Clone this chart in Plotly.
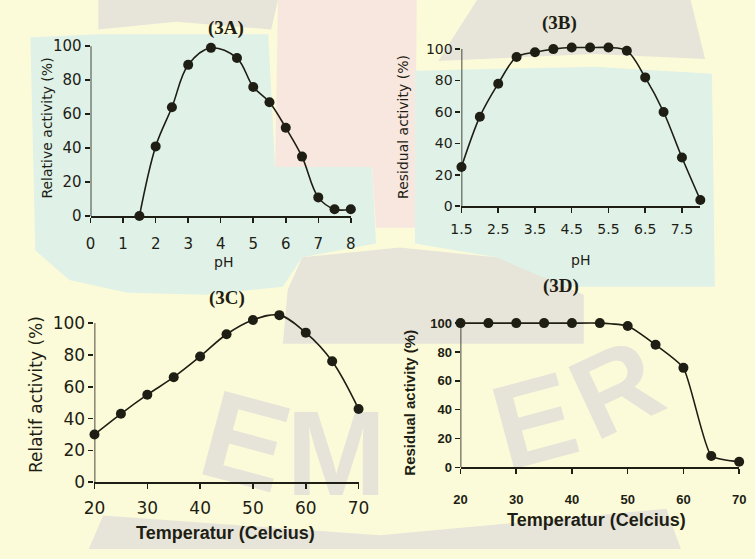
import plotly.graph_objects as go

W, H = 755, 559

# ---- data ----
ph_a = [1.5, 2, 2.5, 3, 3.7, 4.5, 5, 5.5, 6, 6.5, 7, 7.5, 8]
act_a = [0, 41, 64, 89, 99, 93, 76, 67, 52, 35, 11, 4, 4]

ph_b = [1.5, 2, 2.5, 3, 3.5, 4, 4.5, 5, 5.5, 6, 6.5, 7, 7.5, 8]
act_b = [25, 57, 78, 95, 98, 100, 101, 101, 101, 99, 82, 60, 31, 4]

temp_c = [20, 25, 30, 35, 40, 45, 50, 55, 60, 65, 70]
act_c = [30, 43, 55, 66, 79, 93, 102, 105, 94, 76, 46]

temp_d = [20, 25, 30, 35, 40, 45, 50, 55, 60, 65, 70]
act_d = [100, 100, 100, 100, 100, 100, 98, 85, 69, 8, 4]

ticks_a = [0, 1, 2, 3, 4, 5, 6, 7, 8]
ticks_b = [1.5, 2.5, 3.5, 4.5, 5.5, 6.5, 7.5]
ticks_t = [20, 30, 40, 50, 60, 70]
ticks_y = [0, 20, 40, 60, 80, 100]

titles = ["(3A)", "(3B)", "(3C)", "(3D)"]
ytitles = ["Relative activity (%)", "Residual activity (%)",
           "Relatif activity (%)", "Residual activity (%)"]
xtitles = ["pH", "pH", "Temperatur (Celcius)", "Temperatur (Celcius)"]


def px(x):
    return x / W


def py(y):
    return 1 - y / H


INK = "#1e1e14"
SANS = "DejaVu Sans, Liberation Sans, Arial"
NARROW = "Liberation Sans Narrow, Liberation Sans, Arial"
SERIF = "Liberation Serif, Times New Roman"
YMAX = 108

fig = go.Figure()
shapes = []

# ---- faint watermark-like background ----
TEAL = "#e0f1e8"
GRAY = "#e7e5d9"
PINK = "#f8e7df"
LETTER = "#e6e4d8"


def path(pts):
    return "M " + " L ".join("%.4f,%.4f" % (px(x), py(y)) for x, y in pts) + " Z"


def bg(pts, color):
    shapes.append(dict(type="path", path=path(pts), xref="paper", yref="paper",
                       fillcolor=color, line=dict(width=0), layer="below"))


bg([(20, 38), (90, 35), (265, 35), (272, 170), (372, 170), (376, 248), (300, 262),
    (280, 292), (200, 300), (120, 298), (60, 285), (25, 255)], TEAL)
bg([(275, 0), (418, 0), (416, 232), (376, 232), (372, 170), (272, 170)], PINK)
bg([(416, 72), (600, 68), (722, 75), (725, 292), (520, 292), (500, 262), (416, 248)], TEAL)
bg([(90, 0), (275, 0), (268, 30), (170, 22), (90, 30)], GRAY)
bg([(480, 0), (700, 0), (715, 60), (600, 55), (440, 62)], GRAY)
bg([(300, 262), (400, 252), (500, 262), (590, 300), (590, 350), (280, 350), (285, 295)], GRAY)
bg([(95, 525), (380, 545), (675, 518), (690, 559), (80, 559)], GRAY)


def letter(ch, cx, cy, size, angle):
    shapes.append(dict(type="rect", xref="paper", yref="paper",
                       x0=px(cx - 60), x1=px(cx + 60), y0=py(cy + 60), y1=py(cy - 60),
                       line=dict(width=0), fillcolor="rgba(0,0,0,0)", layer="below",
                       label=dict(text=ch, textangle=angle, textposition="middle center",
                                  font=dict(family="Liberation Sans, Arial", size=size,
                                            color=LETTER, weight="bold"))))


letter("E", 245, 437, 125, 15)
letter("M", 335, 450, 120, 0)
letter("E", 536, 417, 120, -15)
letter("R", 618, 385, 115, -25)

panels = [
    # x, y, xdomain(px), (y0px, y100px), xrange, xticks, font, standoff, smoothing
    (ph_a, act_a, (82, 350), (220, 47), [0, 8], ticks_a,
     dict(family=SANS, size=15), 8, 1.0),
    (ph_b, act_b, (464, 710), (210, 50), [1.5, 8], ticks_b,
     dict(family=SANS, size=14), 4, 0.9),
    (temp_c, act_c, (86, 358), (491, 329), [20, 70], ticks_t,
     dict(family=SANS, size=17), 5, 1.0),
    (temp_d, act_d, (463, 750), (476, 329), [20, 70], ticks_t,
     dict(family=NARROW, size=13, weight="bold"), 14, 0.5),
]

for i, (xs, ys, xd, yd, xr, xt, tf, so, sm) in enumerate(panels, start=1):
    suf = "" if i == 1 else str(i)
    unit = (yd[0] - yd[1]) / 100.0
    ytop = yd[0] - YMAX * unit
    fig.add_trace(go.Scatter(
        x=xs, y=ys, mode="lines+markers",
        line=dict(color=INK, width=1.6, shape="spline", smoothing=sm),
        marker=dict(color=INK, size=10),
        cliponaxis=False, showlegend=False, hoverinfo="skip",
        xaxis="x" + suf, yaxis="y" + suf,
    ))
    font = dict(color=INK, **tf)
    common = dict(ticks="outside", ticklen=5, tickcolor=INK, tickwidth=1.5,
                  showgrid=False, zeroline=False, tickfont=font)
    fig.layout["xaxis" + suf] = dict(domain=[px(xd[0]), px(xd[1])], range=xr,
                                     tickvals=xt, anchor="y" + suf, showline=True,
                                     linecolor=INK, linewidth=1.6,
                                     ticklabelstandoff=so, **common)
    fig.layout["yaxis" + suf] = dict(domain=[py(yd[0]), py(ytop)], range=[0, YMAX],
                                     tickvals=ticks_y, anchor="x" + suf,
                                     showline=False, **common)
    shapes.append(dict(type="line", xref="x" + suf, yref="y" + suf,
                       x0=xr[0], x1=xr[0], y0=0, y1=100,
                       line=dict(color=INK, width=1.6)))

ann = []


def add_text(text, x, y, font, angle=0):
    ann.append(dict(text=text, x=px(x), y=py(y), xref="paper", yref="paper",
                    showarrow=False, textangle=angle, xanchor="center", yanchor="middle",
                    font=dict(color=INK, **font)))


tfont = dict(family=SERIF, size=19, weight="bold")
add_text(titles[0], 221, 29, tfont)
add_text(titles[1], 565, 23, tfont)
add_text(titles[2], 222, 303, tfont)
add_text(titles[3], 567, 291, tfont)

add_text(ytitles[0], 37, 130, dict(family=SANS, size=14), angle=-90)
add_text(ytitles[1], 403, 129, dict(family=SANS, size=14), angle=-90)
add_text(ytitles[2], 26, 402, dict(family=SANS, size=17), angle=-90)
add_text(ytitles[3], 411, 410, dict(family=NARROW, size=15, weight="bold"), angle=-90)

add_text(xtitles[0], 219, 267, dict(family=SANS, size=14))
add_text(xtitles[1], 587, 265, dict(family=SANS, size=14))
add_text(xtitles[2], 221, 543, dict(family=NARROW, size=18, weight="bold"))
add_text(xtitles[3], 603, 529, dict(family=NARROW, size=18, weight="bold"))

fig.update_layout(
    width=W, height=H, margin=dict(l=0, r=0, t=0, b=0),
    paper_bgcolor="#fcfbd9", plot_bgcolor="rgba(0,0,0,0)",
    annotations=ann, shapes=shapes, hovermode=False,
)

fig.write_html("out.html", config={"displayModeBar": False, "staticPlot": True},
               post_script="document.body.style.margin='0';")
